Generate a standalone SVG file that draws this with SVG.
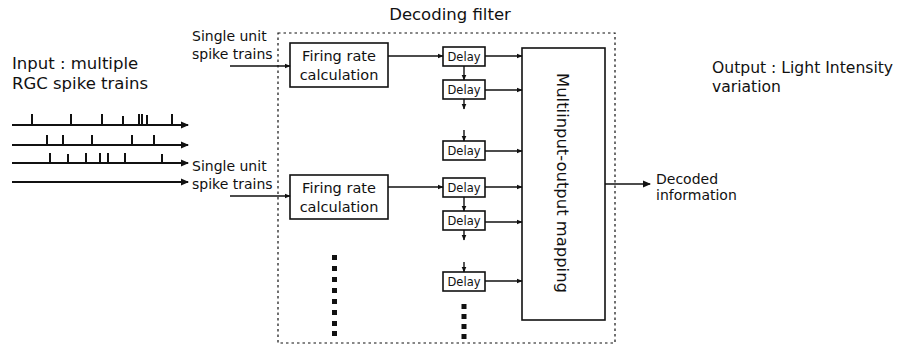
<svg xmlns="http://www.w3.org/2000/svg" width="901" height="353" viewBox="0 0 901 353">
<style>
text{font-family:"DejaVu Sans","Liberation Sans",Arial,sans-serif;fill:#111}
.lbl{font-size:16.5px}
.out{font-size:15.6px}
.sm{font-size:14px}
.fr{font-size:14.5px}
.box{fill:#fff;stroke:#111;stroke-width:1.6}
.dl{font-size:11.5px}
.ln{stroke:#111;stroke-width:1.4;fill:none}
.tr{stroke:#111;stroke-width:2;fill:none}
.sp{stroke:#111;stroke-width:2}
.dot{fill:#111}
</style>
<defs>
<marker id="ah" markerWidth="8" markerHeight="8" refX="7" refY="4" orient="auto" markerUnits="userSpaceOnUse">
<path d="M0,0.5 L8,4 L0,7.5 Z" fill="#111"/>
</marker>
<marker id="as" markerWidth="6" markerHeight="6" refX="5.5" refY="3" orient="auto" markerUnits="userSpaceOnUse">
<path d="M0,0.5 L6,3 L0,5.5 Z" fill="#111"/>
</marker>
</defs>
<rect id="filter" x="278" y="33" width="337" height="310" fill="none" stroke="#111" stroke-width="1.2" stroke-dasharray="2.5 3"/>
<text class="lbl" x="450" y="20" text-anchor="middle">Decoding filter</text>
<g id="input-label">
<text class="lbl" x="12" y="69">Input : multiple</text>
<text class="lbl" x="12" y="89">RGC spike trains</text>
</g>
<g id="output-label">
<text class="out" x="712" y="73">Output : Light Intensity</text>
<text class="out" x="712" y="92">variation</text>
</g>
<g id="spike-trains">
<g class="sp">
<path d="M32,125V114M71,125V114M102,125V114M123,125V116M139,125V114M142,125V114M147,125V115M172,125V114"/>
<path d="M47,145V135M63,145V135M92,145V135M132,145V135M154,145V135"/>
<path d="M50,163V153M68,163V154M86,163V153M100,163V153M108,163V153M125,163V153M162,163V154"/>
</g>
</g>
<g id="su1">
<text class="sm" x="192" y="41">Single unit</text>
<text class="sm" x="192" y="59">spike trains</text>
</g>
<g id="su2">
<text class="sm" x="192" y="171">Single unit</text>
<text class="sm" x="192" y="189">spike trains</text>
</g>
<g id="fr1"><rect class="box" x="290" y="43" width="98" height="44"/>
<text class="fr" x="339" y="61" text-anchor="middle">Firing rate</text>
<text class="fr" x="339" y="80" text-anchor="middle">calculation</text></g>
<g id="fr2"><rect class="box" x="290" y="175" width="98" height="44"/>
<text class="fr" x="339" y="193" text-anchor="middle">Firing rate</text>
<text class="fr" x="339" y="212" text-anchor="middle">calculation</text></g>
<g id="d1"><rect class="box" x="443" y="47" width="42" height="19"/><text class="dl" x="464" y="61" text-anchor="middle">Delay</text></g>
<g id="d2"><rect class="box" x="443" y="80" width="42" height="19"/><text class="dl" x="464" y="94" text-anchor="middle">Delay</text></g>
<g id="d3"><rect class="box" x="443" y="141" width="42" height="19"/><text class="dl" x="464" y="155" text-anchor="middle">Delay</text></g>
<g id="d4"><rect class="box" x="443" y="178" width="42" height="19"/><text class="dl" x="464" y="192" text-anchor="middle">Delay</text></g>
<g id="d5"><rect class="box" x="443" y="211" width="42" height="19"/><text class="dl" x="464" y="225" text-anchor="middle">Delay</text></g>
<g id="d6"><rect class="box" x="443" y="272" width="42" height="19"/><text class="dl" x="464" y="286" text-anchor="middle">Delay</text></g>
<g id="mapping"><rect class="box" x="522" y="48" width="83" height="272"/>
<text transform="translate(557,183) rotate(90)" text-anchor="middle" style="font-size:16.4px">Multiinput-output mapping</text></g>
<g id="decoded">
<text class="sm" x="656" y="184">Decoded</text>
<text class="sm" x="656" y="200">information</text>
</g>
<g id="connectors">
<path class="tr" d="M12,125H188" marker-end="url(#ah)"/>
<path class="tr" d="M12,145H188" marker-end="url(#ah)"/>
<path class="tr" d="M12,163H188" marker-end="url(#ah)"/>
<path class="tr" d="M12,182H188" marker-end="url(#ah)"/>
<path class="ln" d="M230,66H290" marker-end="url(#as)"/>
<path class="ln" d="M230,196H290" marker-end="url(#as)"/>
<path class="ln" d="M388,56H443" marker-end="url(#as)"/>
<path class="ln" d="M388,187H443" marker-end="url(#as)"/>
<path class="ln" d="M464,66V80" marker-end="url(#as)"/>
<path class="ln" d="M464,99V109" marker-end="url(#as)"/>
<path class="ln" d="M464,130V141" marker-end="url(#as)"/>
<path class="ln" d="M464,197V211" marker-end="url(#as)"/>
<path class="ln" d="M464,230V240" marker-end="url(#as)"/>
<path class="ln" d="M464,262V272" marker-end="url(#as)"/>
<path class="ln" d="M485,56H522" marker-end="url(#as)"/>
<path class="ln" d="M485,90H522" marker-end="url(#as)"/>
<path class="ln" d="M485,151H522" marker-end="url(#as)"/>
<path class="ln" d="M485,187H522" marker-end="url(#as)"/>
<path class="ln" d="M485,222H522" marker-end="url(#as)"/>
<path class="ln" d="M485,281H522" marker-end="url(#as)"/>
<path class="ln" d="M605,184H650" marker-end="url(#ah)"/>
</g>
<g id="ellipsis">
<g class="dot">
<rect x="332" y="255" width="5" height="5"/><rect x="332" y="266" width="5" height="5"/><rect x="332" y="277" width="5" height="5"/><rect x="332" y="288" width="5" height="5"/><rect x="332" y="299" width="5" height="5"/><rect x="332" y="310" width="5" height="5"/><rect x="332" y="321" width="5" height="5"/><rect x="332" y="331" width="5" height="5"/>
<rect x="461.5" y="304" width="5" height="5"/><rect x="461.5" y="314" width="5" height="5"/><rect x="461.5" y="324" width="5" height="5"/><rect x="461.5" y="334" width="5" height="5"/>
</g>
</g>
</svg>
